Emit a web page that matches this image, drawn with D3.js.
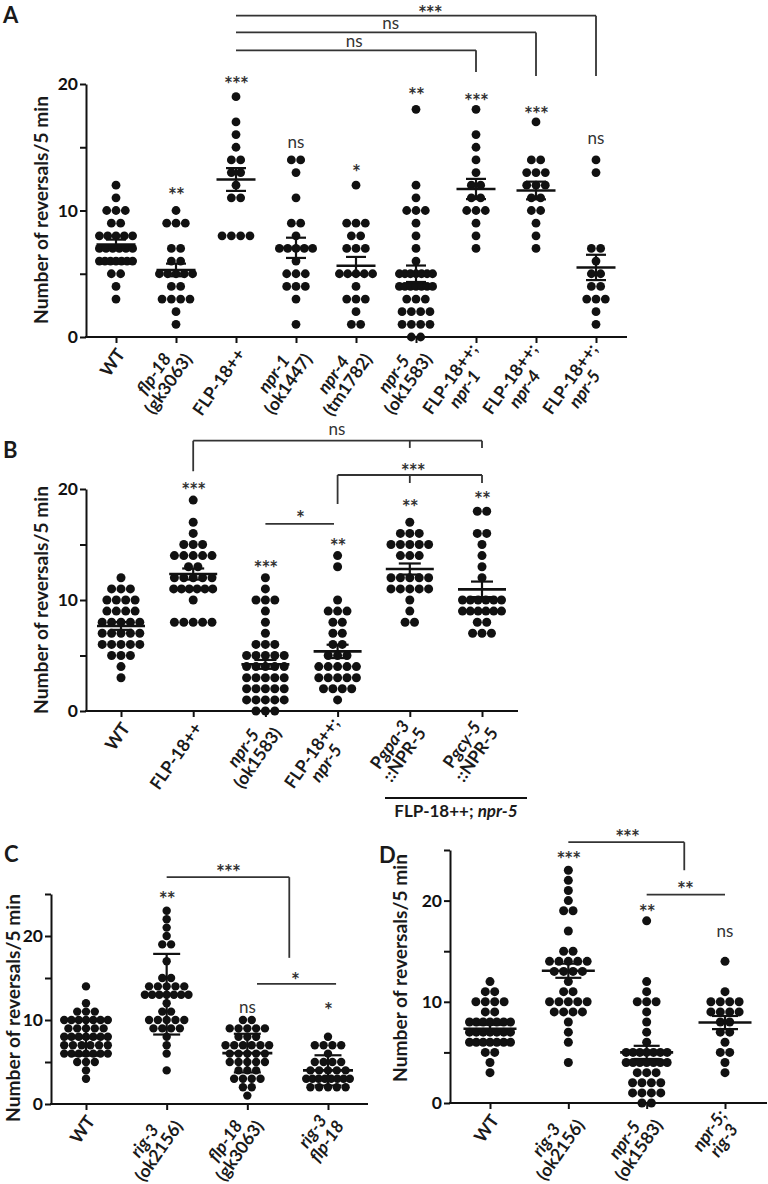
<!DOCTYPE html>
<html><head><meta charset="utf-8">
<script src="https://cdn.jsdelivr.net/npm/d3@7"></script>
<style>
body{margin:0;background:#fff}
svg{display:block}
text{font-family:Lato,'Open Sans',sans-serif;fill:#1a1a1a}
</style>
</head><body>
<svg id="c" width="768" height="1184"></svg>
<script>
// ---------------- DATA ----------------
// Panel A
const labelsA = [["WT"],["{flp-18}","(gk3063)"],["FLP-18++"],["{npr-1}","(ok1447)"],["{npr-4}","(tm1782)"],["{npr-5}","(ok1583)"],["FLP-18++;","{npr-1}"],["FLP-18++;","{npr-4}"],["FLP-18++;","{npr-5}"]];
const aWT    = [12,11,10,10,10,9,9,8,8,8,8,8,7,7,7,7,7,7,6,6,6,6,6,6,6,5,5,4,3];
const aFlp18 = [10,9,9,9,7,7,6,6,5,5,5,5,5,4,4,3,3,3,3,2,1];
const aFLP   = [19,17,16,15,14,14,13,13,12,11,11,8,8,8,8];
const aNpr1  = [14,14,13,11,9,9,8,7,7,7,7,7,6,5,5,5,4,4,4,3,1];
const aNpr4  = [12,9,9,9,8,8,7,7,7,5,5,5,5,5,4,3,3,3,2,1,1];
const aNpr5  = [18,12,11,10,10,10,9,8,7,6,5,5,5,5,5,5,5,4,4,4,4,4,4,4,3,3,3,2,2,2,2,1,1,1,1,0,0];
const aFNpr1 = [18,16,15,14,13,12,12,11,11,10,10,10,9,8,7];
const aFNpr4 = [17,14,14,13,13,13,12,12,12,11,11,10,10,9,8,7];
const aFNpr5 = [14,13,7,7,6,5,5,4,4,3,3,3,2,1];
const meanA = [7.3,5.3,12.45,7.05,5.63,5.0,11.7,11.58,5.5];
const semA  = [0.4,0.5,0.9,0.8,0.7,0.65,0.8,0.7,1.0];
const sigA  = ["","**","***","ns","*","**","***","***","ns"];

// Panel B
const labelsB = [["WT"],["FLP-18++"],["{npr-5}","(ok1583)"],["FLP-18++;","{npr-5}"],["P{gpa-3}","::NPR-5"],["P{gcy-5}","::NPR-5"]];
const bWT    = [12,11,11,11,10,10,10,10,9,9,9,9,8,8,8,8,8,7,7,7,7,7,6,6,6,6,6,5,5,5,4,3];
const bFLP   = [19,17,16,15,15,15,14,14,14,14,14,13,13,12,12,12,12,12,11,11,11,11,11,11,10,8,8,8,8,8];
const bNpr5  = [12,11,10,10,10,9,8,7,6,6,6,5,5,5,5,5,4,4,4,4,4,3,3,3,3,3,2,2,2,2,2,1,1,1,1,1,0,0,0];
const bFNpr5 = [14,13,10,9,9,9,8,8,7,7,6,6,5,5,5,4,4,4,4,4,3,3,3,3,3,2,2,2,2,1];
const bPgpa  = [17,16,16,16,15,15,15,15,15,14,14,14,12,12,12,12,12,11,11,11,11,11,10,9,8,8];
const bPgcy  = [18,18,16,16,15,14,13,12,10,10,10,10,10,10,9,9,9,9,9,9,8,8,7,7,7];
const meanB = [7.66,12.34,4.2,5.37,12.79,10.96];
const semB  = [0.35,0.5,0.4,0.6,0.5,0.7];
const sigB  = ["","***","***","**","**","**"];
const groupLabelB = "FLP-18++; {npr-5}";

// Panel C
const labelsC = [["WT"],["{rig-3}","(ok2156)"],["{flp-18}","(gk3063)"],["{rig-3}","{flp-18}"]];
const cWT    = [14,12,11,11,11,10,10,10,10,10,10,10,9,9,9,9,9,8,8,8,8,8,8,8,7,7,7,7,7,7,6,6,6,6,6,6,6,5,5,5,4,3];
const cRig3  = [23,22,21,20,19,19,17,15,15,14,14,14,14,14,13,13,13,13,13,13,13,12,11,11,10,10,10,10,10,9,9,9,9,8,7,6,4];
const cFlp18 = [10,10,9,9,9,9,9,8,8,8,7,7,7,7,7,7,6,6,6,6,6,5,5,5,5,5,4,4,4,3,3,3,3,2,2,1];
const cRF    = [8,7,7,7,7,6,5,5,5,5,4,4,4,4,4,3,3,3,3,3,3,3,3,2,2,2,2,2];
const meanC = [7.85,13.07,6.06,4.0];
const sdC   = [2.1,4.8,2.3,1.8];
const sigC  = ["","**","ns","*"];

// Panel D
const labelsD = [["WT"],["{rig-3}","(ok2156)"],["{npr-5}","(ok1583)"],["{npr-5;}","{rig-3}"]];
const dWT    = [12,11,11,10,10,10,10,9,9,8,8,8,8,8,8,8,7,7,7,7,7,7,7,6,6,6,6,6,6,6,5,5,4,3];
const dRig3  = [23,22,21,20,19,19,17,15,15,14,14,14,14,14,13,13,13,13,12,11,11,10,10,10,10,10,9,9,9,9,8,7,6,4];
const dNpr5  = [18,12,11,10,10,10,9,8,7,6,5,5,5,5,5,5,5,4,4,4,4,4,4,4,3,3,3,2,2,2,2,1,1,1,1,0,0];
const dNR    = [14,11,10,10,10,10,9,9,9,9,8,8,7,7,6,5,5,4,3];
const meanD = [7.33,13.07,5.0,7.95];
const semD  = [0.4,0.7,0.65,0.65];
const sigD  = ["","***","**","ns"];

const yTitle = "Number of reversals/5 min";

// ---------------- LAYOUT ----------------
const panels = [
  {letter:"A", lx:3, ly:23, labels:labelsA, groups:[aWT,aFlp18,aFLP,aNpr1,aNpr4,aNpr5,aFNpr1,aFNpr4,aFNpr5],
   means:meanA, errs:semA, sig:sigA, sigY:[0,11.57,20.37,15.3,13.4,19.5,19.0,18.0,15.6],
   xRange:[116,596], axisX:86, xEnd:627, yDomain:[0,20], yRange:[337,84],
   yTicks:[0,5,10,15,20], yLab:[0,10,20], dot:{d:8.8,s:9.3,maxW:42}, meanW:39, capW:20,
   title:{x:40,y:210},
   brackets:[
     {y:22.66,x1:2,x2:6,drops:[[6,20.95]],lab:{t:"ns",x:3.97,y:23.3}},
     {y:24.08,x1:2,x2:7,drops:[[7,20.63]],lab:{t:"ns",x:4.58,y:24.7}},
     {y:25.4,x1:2,x2:8,drops:[[8,20.63]],lab:{t:"***",x:5.23,y:26.0}}]},
  {letter:"B", lx:3, ly:458, labels:labelsB, groups:[bWT,bFLP,bNpr5,bFNpr5,bPgpa,bPgcy],
   means:meanB, errs:semB, sig:sigB, sigY:[0,20.3,13.3,15.3,18.8,19.5],
   xRange:[121,482], axisX:86, xEnd:518, yDomain:[0,20], yRange:[711,489],
   yTicks:[0,5,10,15,20], yLab:[0,10,20], dot:{d:9,s:9.4,maxW:48}, meanW:48, capW:22,
   title:{x:40,y:600},
   brackets:[
     {y:24.35,x1:1,x2:5,drops:[[1,21.6],[4,23.7],[5,23.7]],lab:{t:"ns",x:2.99,y:25.3}},
     {y:21.26,x1:3,x2:5,drops:[[3,18.65],[4,20.54],[5,20.54]],lab:{t:"***",x:4.04,y:22.07}},
     {y:16.85,x1:2,x2:2.95,drops:[],lab:{t:"*",x:2.48,y:17.8}}]},
  {letter:"C", lx:4, ly:862, labels:labelsC, groups:[cWT,cRig3,cFlp18,cRF],
   means:meanC, errs:sdC, sig:sigC, sigY:[0,25.0,11.4,11.7],
   xRange:[86,328], axisX:51, xEnd:368, yDomain:[0,25], yRange:[1104,894],
   yTicks:[0,5,10,15,20,25], yLab:[0,10,20], dot:{d:8.4,s:8.8,maxW:52}, meanW:50, capW:27,
   title:{x:12,y:1008},
   brackets:[
     {y:27.0,x1:1,x2:2.52,drops:[[2.52,17.4]],lab:{t:"***",x:1.76,y:28.2}},
     {y:14.29,x1:2.12,x2:3.1,drops:[],lab:{t:"*",x:2.59,y:15.3}}]},
  {letter:"D", lx:379, ly:863, labels:labelsD, groups:[dWT,dRig3,dNpr5,dNR],
   means:meanD, errs:semD, sig:sigD, sigY:[0,24.6,19.3,16.8],
   xRange:[490,725], axisX:450, xEnd:767, yDomain:[0,25], yRange:[1103,850],
   yTicks:[0,5,10,15,20,25], yLab:[0,10,20], dot:{d:9,s:9.4,maxW:50}, meanW:53, capW:26,
   title:{x:399,y:968},
   brackets:[
     {y:25.77,x1:1,x2:2.48,drops:[[2.48,23.0]],lab:{t:"***",x:1.75,y:26.7}},
     {y:20.6,x1:2,x2:3,drops:[],lab:{t:"**",x:2.49,y:21.6}}]}
];

const svg = d3.select("#c");
const INK = "#111";

function rich(textSel, str){
  str.split(/(\{[^}]*\})/).filter(s=>s.length).forEach(s=>{
    const it = s.startsWith("{");
    textSel.append("tspan").text(it? s.slice(1,-1): s).attr("font-style", it? "italic": null);
  });
}
function sigText(g, t, cx, cy){
  const star = t.indexOf("*")>=0;
  const fs = star? 21 : 17;
  const tx = g.append("text").attr("text-anchor","middle").attr("font-size",fs)
    .attr("font-family", star? "'Liberation Sans',Arial,sans-serif" : "Lato,sans-serif")
    .attr("font-weight", star? "bold" : "normal")
    .attr("x",cx).attr("y", cy + (star? 0.6:0.26)*fs)
    .style("fill","#333").attr("letter-spacing", star? -1 : 0).text(t);
  return tx;
}

panels.forEach(p=>{
  const g = svg.append("g");
  const n = p.labels.length;
  const x = d3.scalePoint().domain(d3.range(n)).range(p.xRange);
  const step = (p.xRange[1]-p.xRange[0])/(n-1);
  const xi = i => p.xRange[0] + i*step;
  const y = d3.scaleLinear().domain(p.yDomain).range(p.yRange);

  // y axis
  const ya = g.append("g").attr("transform",`translate(${p.axisX},0)`)
    .call(d3.axisLeft(y).tickValues(p.yTicks).tickSize(6).tickSizeOuter(0)
      .tickFormat(d=> p.yLab.includes(d)? d: ""));
  ya.select(".domain").attr("stroke",INK).attr("stroke-width",2);
  ya.selectAll(".tick line").attr("stroke",INK).attr("stroke-width",2);
  ya.selectAll(".tick text").attr("font-size",17.5).attr("font-weight","bold")
    .attr("font-family","Lato").style("fill",INK).attr("x",-8);

  // x axis
  const xa = g.append("g").attr("transform",`translate(0,${y(0)})`)
    .call(d3.axisBottom(x).tickSize(6).tickSizeOuter(0).tickFormat(""));
  xa.select(".domain").remove();
  xa.selectAll(".tick line").attr("stroke",INK).attr("stroke-width",2);
  g.append("line").attr("x1",p.axisX-1).attr("x2",p.xEnd).attr("y1",y(0)).attr("y2",y(0))
    .attr("stroke",INK).attr("stroke-width",2);

  // dots
  p.groups.forEach((vals,i)=>{
    const byVal = d3.group(vals, v=>v);
    const pts = [];
    for (const [v,arr] of byVal){
      const m = arr.length;
      const sp = m>1? Math.min(p.dot.s,(p.dot.maxW-p.dot.d)/(m-1)) : 0;
      arr.forEach((_,j)=>pts.push({v, dx:(j-(m-1)/2)*sp}));
    }
    g.append("g").selectAll("circle").data(pts).join("circle")
      .attr("cx",d=>x(i)+d.dx).attr("cy",d=>y(d.v)).attr("r",p.dot.d/2).attr("fill",INK);
  });

  // mean +- error
  p.means.forEach((m,i)=>{
    const cx = x(i), e = p.errs[i];
    const mg = g.append("g").attr("stroke",INK);
    mg.append("line").attr("x1",cx-p.meanW/2).attr("x2",cx+p.meanW/2).attr("y1",y(m)).attr("y2",y(m)).attr("stroke-width",2.6);
    mg.append("line").attr("x1",cx).attr("x2",cx).attr("y1",y(m-e)).attr("y2",y(m+e)).attr("stroke-width",2.2);
    [m-e,m+e].forEach(v=> mg.append("line").attr("x1",cx-p.capW/2).attr("x2",cx+p.capW/2)
      .attr("y1",y(v)).attr("y2",y(v)).attr("stroke-width",2.2));
  });

  // significance above groups
  p.sig.forEach((s,i)=>{ if(s) sigText(g, s, x(i), y(p.sigY[i])); });

  // brackets
  p.brackets.forEach(b=>{
    const bg = g.append("g").attr("stroke","#333").attr("stroke-width",1.8).attr("fill","none");
    bg.append("line").attr("x1",xi(b.x1)).attr("x2",xi(b.x2)).attr("y1",y(b.y)).attr("y2",y(b.y));
    b.drops.forEach(dp=> bg.append("line").attr("x1",xi(dp[0])).attr("x2",xi(dp[0]))
      .attr("y1",y(b.y)).attr("y2",y(dp[1])));
    sigText(g, b.lab.t, xi(b.lab.x), y(b.lab.y));
  });

  // x labels
  const fs = 17.5, lh = 17.5;
  p.labels.forEach((lines,i)=>{
    const lg = g.append("g").attr("transform",`translate(${x(i)+4},${y(0)+13}) rotate(-55)`);
    const texts = lines.map(str=>{
      const t = lg.append("text").attr("font-size",fs).attr("font-weight","bold")
        .attr("text-anchor","middle").attr("dominant-baseline","central");
      rich(t,str); return t;
    });
    const W = d3.max(texts, t=>t.node().getComputedTextLength());
    texts.forEach((t,k)=> t.attr("x",-W/2).attr("y",(k-(lines.length-1)/2)*lh));
  });

  // y title
  const tt = g.append("text").attr("font-size",17).attr("font-weight","bold")
    .attr("text-anchor","middle").attr("dominant-baseline","central")
    .attr("transform",`translate(${p.title.x},${p.title.y}) rotate(-90)`).text(yTitle);
  const L = tt.node().getComputedTextLength();
  tt.attr("font-size", 17*228/L);

  // panel letter
  g.append("text").attr("x",p.lx).attr("y",p.ly).attr("font-family","'Liberation Sans',Arial,sans-serif")
    .attr("font-weight","bold").attr("font-size",22).text(p.letter);
});

// group line under B labels
(function(){
  svg.append("line").attr("x1",385).attr("x2",527).attr("y1",798).attr("y2",798)
    .attr("stroke",INK).attr("stroke-width",1.8);
  const t = svg.append("text").attr("x",456).attr("y",817).attr("text-anchor","middle")
    .attr("font-size",17).attr("font-weight","bold");
  rich(t, groupLabelB);
})();
</script>
</body></html>
